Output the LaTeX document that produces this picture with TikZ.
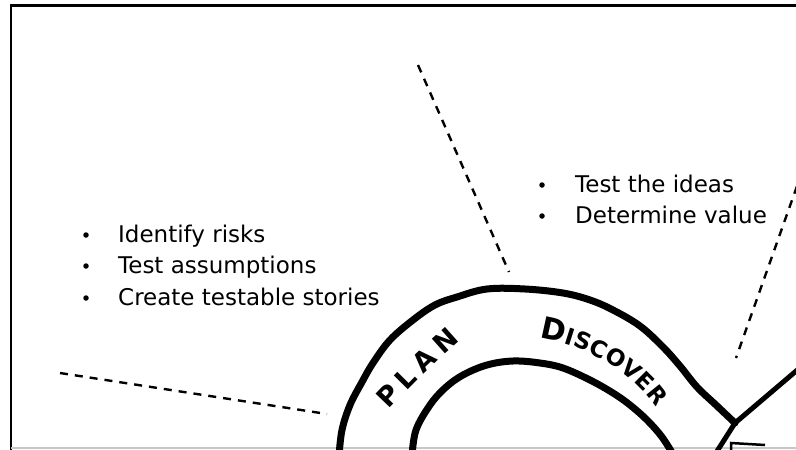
\documentclass[tikz,border=0pt]{standalone}
\usepackage{fontspec}
\setmainfont{DejaVu Sans}
\usetikzlibrary{decorations.text}
\begin{document}
\begin{tikzpicture}[x=1pt,y=-1pt,
  loopline/.style={line width=7pt, line cap=round, line join=round},
  joinline/.style={line width=5pt, line cap=round},
  guide/.style={line width=2.4pt, dash pattern=on 8pt off 7pt},
  item/.style={anchor=base west, inner sep=0pt, font=\fontsize{23}{27}\selectfont},
  bullet/.style={circle, fill=black, inner sep=0pt, minimum size=5.5pt},
  tracklabel/.style={decorate, decoration={text along path, text align={fit to path}}}]
\useasboundingbox (0,0) rectangle (796,450);
\clip (0,0) rectangle (796,450);

% frame
\draw[line width=2.5pt] (11,455) -- (11,5.5) -- (800,5.5);
\draw[gray!45, line width=1.2pt] (11,448) -- (800,448);

% dashed guide lines
\coordinate (g1a) at (418,65);  \coordinate (g1b) at (509,272);
\coordinate (g2a) at (802,172); \coordinate (g2b) at (736,358);
\coordinate (g3a) at (60,373);  \coordinate (g3b) at (327,414);
\draw[guide] (g1a) -- (g1b);
\draw[guide] (g2a) -- (g2b);
\draw[guide] (g3a) -- (g3b);

% outer track of the loop
\draw[loopline] plot[smooth, tension=0.6] coordinates {
  (339,456) (342,430) (350,405) (362,382) (373,363) (390,340) (413,320)
  (435,305) (457,297) (487,289) (525,289) (563,293) (590,300) (613,310)
  (640,326) (663,347) (680,366) (697,387) (716,405) (735,423)};
% inner track of the loop
\draw[loopline] plot[smooth, tension=0.6] coordinates {
  (412,456) (416,430) (430,405) (445,388) (463,375) (487,365) (513,361)
  (540,363) (563,368) (590,380) (613,393) (630,405) (647,420) (662,437)
  (674,456)};

% crossing of the loop
\coordinate (x0) at (735,423);
\coordinate (x1) at (802,366);
\coordinate (x2) at (714,456);
\draw[joinline] (x0) -- (x1);
\draw[joinline] (x0) -- (x2);
\draw[line width=2.5pt] (731,452) -- (731,443) -- (765,445);

% track labels, set along the middle of the track
\path[tracklabel, decoration={text={|\fontsize{27}{27}\selectfont\bfseries|PLAN}}]
  (389,410) .. controls (408,390) and (432,365) .. (460,341);
\path[tracklabel, decoration={text={|\fontsize{30}{30}\selectfont\bfseries|D|\fontsize{23}{23}\selectfont\bfseries|ISCOVER}}]
  (539,338) .. controls (580,344) and (627,366) .. (656,407);

% left list
\node[bullet] (lb1) at (86,235) {};
\node[bullet] (lb2) at (86,266) {};
\node[bullet] (lb3) at (86,298) {};
\node[item] (l1) at (118,242) {Identify risks};
\node[item] (l2) at (118,273) {Test assumptions};
\node[item] (l3) at (118,305) {Create testable stories};

% right list
\node[bullet] (rb1) at (542,185) {};
\node[bullet] (rb2) at (542,216) {};
\node[item] (r1) at (575,192) {Test the ideas};
\node[item] (r2) at (575,223) {Determine value};
\end{tikzpicture}
\end{document}
